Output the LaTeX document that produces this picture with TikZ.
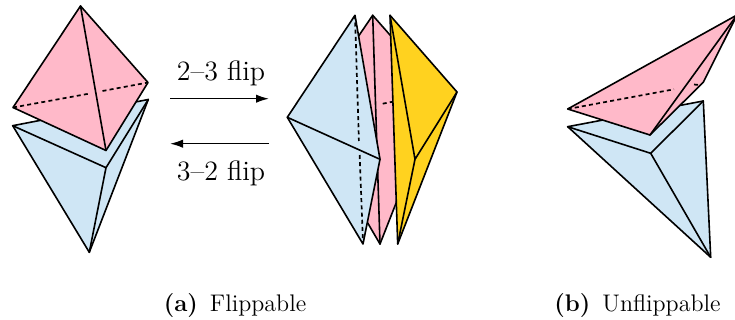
\documentclass[tikz,border=0pt]{standalone}
\usetikzlibrary{arrows.meta}
\definecolor{tpink}{HTML}{FFB9C9}
\definecolor{tblue}{HTML}{CFE6F5}
\definecolor{tyellow}{HTML}{FFD21F}
\tikzset{
  edge/.style={line width=0.8pt,line join=round,line cap=round,black},
  hidden/.style={line width=0.85pt,black,dash pattern=on 2pt off 1.6pt},
  flip/.style={line width=0.75pt,-{Latex[length=6.5pt,width=4.2pt]}},
  fliplabel/.style={anchor=base,inner sep=0pt,font=\fontsize{14}{16}\selectfont},
  caption/.style={anchor=base,inner sep=0pt,font=\fontsize{12}{14}\selectfont}
}
\begin{document}
\begin{tikzpicture}[x=0.5pt,y=-0.5pt]
\useasboundingbox (0,0) rectangle (735,320);
% --- (a) left pair
\coordinate (ablL) at (12.7,125.7);
\coordinate (ablR) at (148.3,99.5);
\coordinate (ablC) at (106,167.7);
\coordinate (ablB) at (89.3,252.3);
\coordinate (apT) at (80.5,6);
\coordinate (apL) at (13,107.5);
\coordinate (apR) at (148,82.5);
\coordinate (apB) at (106,150.5);
\coordinate (apD1) at (90,93.5);
\coordinate (apD2) at (102.5,91);
\fill[tblue] (ablL) -- (ablR) -- (ablB) -- cycle;
\draw[edge] (ablL) -- (ablR) -- (ablB) -- cycle;
\draw[edge] (ablL) -- (ablC) (ablR) -- (ablC) (ablB) -- (ablC);
\fill[tpink] (apT) -- (apL) -- (apB) -- (apR) -- cycle;
\draw[edge] (apT) -- (apL) -- (apB) -- (apR) -- cycle;
\draw[edge] (apT) -- (apB);
\draw[hidden] (apL) -- (apD1) (apD2) -- (apR);
% --- arrows
\coordinate (fa1) at (170,98.7);
\coordinate (fa2) at (269,98.7);
\coordinate (fb1) at (269,143.7);
\coordinate (fb2) at (170,143.7);
\draw[flip] (fa1) -- (fa2);
\draw[flip] (fb1) -- (fb2);
\node[fliplabel] (l23) at (221,81) {2--3 flip};
\node[fliplabel] (l32) at (221,181) {3--2 flip};
% --- flipped: pink
\coordinate (mpT) at (372.7,15.3);
\coordinate (mpL) at (304.7,115.3);
\coordinate (mpR) at (439.8,91.8);
\coordinate (mpB) at (380,244);
\coordinate (mpD1) at (382.7,103.7);
\coordinate (mpD2) at (392.7,101.7);
\fill[tpink] (mpT) -- (mpL) -- (mpB) -- (mpR) -- cycle;
\draw[edge] (mpT) -- (mpL) -- (mpB) -- (mpR) -- cycle;
\draw[edge] (mpT) -- (mpB);
\draw[hidden] (mpD1) -- (mpD2);
% --- flipped: blue
\coordinate (mbT) at (355,15.3);
\coordinate (mbL) at (287.3,117.3);
\coordinate (mbF) at (380,159.3);
\coordinate (mbB) at (363,244);
\coordinate (mbD1) at (358.9,141);
\coordinate (mbD2) at (359.7,155);
\fill[tblue] (mbT) -- (mbL) -- (mbB) -- (mbF) -- cycle;
\draw[edge] (mbT) -- (mbL) -- (mbB) -- (mbF) -- cycle;
\draw[edge] (mbL) -- (mbF);
\draw[hidden] (mbT) -- (mbD1) (mbD2) -- (mbB);
% --- flipped: yellow
\coordinate (myT) at (390,15.3);
\coordinate (myR) at (457,92);
\coordinate (myF) at (415,159.3);
\coordinate (myB) at (397.7,244);
\fill[tyellow] (myT) -- (myR) -- (myB) -- cycle;
\draw[edge] (myT) -- (myR) -- (myB) -- cycle;
\draw[edge] (myT) -- (myF) (myR) -- (myF) (myB) -- (myF);
% --- (b) right pair
\coordinate (bbL) at (567.7,126.7);
\coordinate (bbR) at (703.3,101);
\coordinate (bbC) at (650.7,153.3);
\coordinate (bbB) at (710.7,257.3);
\coordinate (bpL) at (567.7,109);
\coordinate (bpB) at (650,135);
\coordinate (bpT) at (737,15);
\coordinate (bpR) at (703.3,82.3);
\coordinate (bpD1) at (674,89.3);
\coordinate (bpD2) at (699,85);
\coordinate (bpD3) at (694,84.5);
\fill[tblue] (bbL) -- (bbR) -- (bbB) -- cycle;
\draw[edge] (bbL) -- (bbR) -- (bbB) -- cycle;
\draw[edge] (bbL) -- (bbC) (bbR) -- (bbC) (bbB) -- (bbC);
\fill[tpink] (bpL) -- (bpB) -- (bpR) -- (bpT) -- cycle;
\draw[edge] (bpL) -- (bpB) -- (bpR) -- (bpT) -- cycle;
\draw[edge] (bpB) -- (bpT);
\draw[hidden] (bpL) -- (bpD1);
\draw[hidden] (bpD3) -- (bpD2);
% --- captions
\node[caption] (capa) at (235,312) {\textbf{(a)}\hspace{0.5em}Flippable};
\node[caption] (capb) at (637.5,312) {\textbf{(b)}\hspace{0.5em}Unflippable};
\end{tikzpicture}
\end{document}
